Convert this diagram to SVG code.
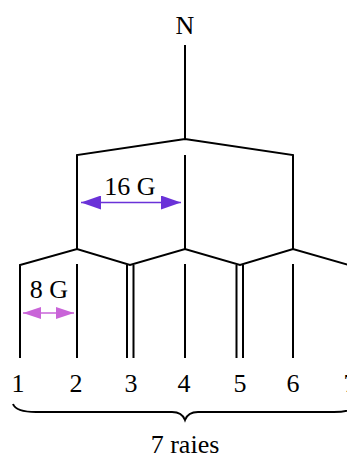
<svg xmlns="http://www.w3.org/2000/svg" width="347" height="456" viewBox="0 0 347 456">
<style>
.ln{stroke:#000;stroke-width:2;fill:none}
.t{font-family:"Liberation Serif","Times New Roman",serif;font-size:26px;fill:#000;text-anchor:middle}
</style>
<defs>
<marker id="hp" viewBox="0 0 20 14" refX="20" refY="7" markerWidth="20" markerHeight="14" markerUnits="userSpaceOnUse" orient="auto-start-reverse"><path d="M0,0L20,7L0,14z" fill="#6a32d8"/></marker>
<marker id="ho" viewBox="0 0 18 12" refX="18" refY="6" markerWidth="18" markerHeight="12" markerUnits="userSpaceOnUse" orient="auto-start-reverse"><path d="M0,0L18,6L0,12z" fill="#c964d8"/></marker>
</defs>
<rect width="347" height="456" fill="#fff"/>
<g id="top"><text class="t" x="185" y="34">N</text></g>
<g id="connectors">
<path class="ln" d="M185,45V139M77,249V155L185,139L293,155V249M185,155V249"/>
<path class="ln" d="M20,358V265L77,249L130,265L185,249L240,265L293,249L352,266"/>
<path class="ln" d="M77,264V358M185,264V358M293,264V358M127,265V358M133.5,265V358M236.5,265V358M243,265V358"/>
<path d="M13,404Q16,412 36,412H172Q182,412 185,420Q188,412 198,412H334Q354,412 357,404" class="ln"/>
<line x1="81" y1="202.5" x2="181" y2="202.5" stroke="#6a32d8" stroke-width="1.5" marker-start="url(#hp)" marker-end="url(#hp)"/>
<line x1="23" y1="313" x2="74" y2="313" stroke="#c964d8" stroke-width="1.5" marker-start="url(#ho)" marker-end="url(#ho)"/>
</g>
<g id="labels">
<text class="t" x="130" y="195">16 G</text>
<text class="t" x="49" y="298">8 G</text>
<text class="t" x="18" y="392">1</text>
<text class="t" x="76" y="392">2</text>
<text class="t" x="131" y="392">3</text>
<text class="t" x="184" y="392">4</text>
<text class="t" x="240" y="392">5</text>
<text class="t" x="293" y="392">6</text>
<text class="t" x="350" y="392">7</text>
<text class="t" x="185" y="453">7 raies</text>
</g>
</svg>
